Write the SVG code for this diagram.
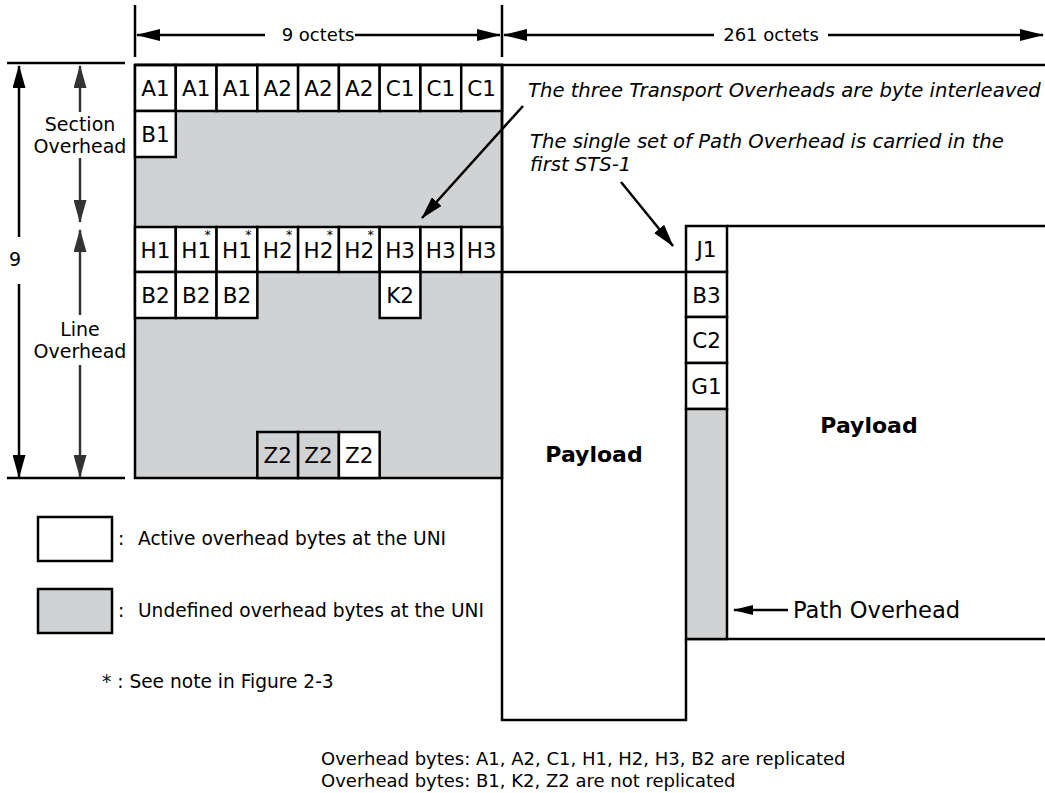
<svg xmlns="http://www.w3.org/2000/svg" width="1045" height="793" viewBox="0 0 1045 793">
<style>
text{font-family:"DejaVu Sans","Liberation Sans",sans-serif;fill:#000}
.cell{fill:#fff;stroke:#000;stroke-width:2.5}
.grey{fill:#d1d2d4;stroke:#000;stroke-width:2.5}
.lbl{font-size:21.5px;text-anchor:middle}
.ast{font-size:12.5px;text-anchor:middle}
.ln{stroke:#000;stroke-width:2.5;fill:none}
.dim{stroke:#000;stroke-width:2.5;fill:none}
.dim2{stroke:#333;stroke-width:2.5;fill:none}
.it{font-size:19.6px;font-style:italic}
.t18{font-size:18px}
.side{font-size:19px;text-anchor:middle}
.pay{font-size:22px;font-weight:bold;text-anchor:middle}
</style>
<defs>
<marker id="ah" viewBox="0 0 24 12" refX="23" refY="6" markerWidth="24" markerHeight="12" markerUnits="userSpaceOnUse" orient="auto"><path d="M0,0 L24,6 L0,12 z" fill="#000"/></marker>
<marker id="ah2" viewBox="0 0 23 13" refX="22" refY="6.5" markerWidth="23" markerHeight="13" markerUnits="userSpaceOnUse" orient="auto"><path d="M0,0 L23,6.5 L0,13 z" fill="#333"/></marker>
<marker id="ahb" viewBox="0 0 23 13" refX="22" refY="6.5" markerWidth="23" markerHeight="13" markerUnits="userSpaceOnUse" orient="auto"><path d="M0,0 L23,6.5 L0,13 z" fill="#000"/></marker>
<marker id="ahs" viewBox="0 0 20 10" refX="19" refY="5" markerWidth="20" markerHeight="10" markerUnits="userSpaceOnUse" orient="auto"><path d="M0,0 L20,5 L0,10 z" fill="#000"/></marker>
</defs>
<rect width="1045" height="793" fill="#fff"/>

<g id="toh-frame">
<rect class="grey" x="135" y="65" width="367" height="413"/>
</g>

<g id="row-a">
<rect class="cell" x="135" y="65" width="40.78" height="46"/><text class="lbl" x="155.4" y="96">A1</text>
<rect class="cell" x="175.78" y="65" width="40.78" height="46"/><text class="lbl" x="196.2" y="96">A1</text>
<rect class="cell" x="216.56" y="65" width="40.78" height="46"/><text class="lbl" x="237" y="96">A1</text>
<rect class="cell" x="257.33" y="65" width="40.78" height="46"/><text class="lbl" x="277.7" y="96">A2</text>
<rect class="cell" x="298.11" y="65" width="40.78" height="46"/><text class="lbl" x="318.5" y="96">A2</text>
<rect class="cell" x="338.89" y="65" width="40.78" height="46"/><text class="lbl" x="359.3" y="96">A2</text>
<rect class="cell" x="379.67" y="65" width="40.78" height="46"/><text class="lbl" x="400.1" y="96">C1</text>
<rect class="cell" x="420.44" y="65" width="40.78" height="46"/><text class="lbl" x="440.8" y="96">C1</text>
<rect class="cell" x="461.22" y="65" width="40.78" height="46"/><text class="lbl" x="481.6" y="96">C1</text>
</g>
<g id="b1"><rect class="cell" x="135" y="111" width="40.78" height="46"/><text class="lbl" x="155.4" y="142">B1</text></g>

<g id="row-h">
<rect class="cell" x="135" y="227" width="40.78" height="45"/><text class="lbl" x="155.4" y="257.5">H1</text>
<rect class="cell" x="175.78" y="227" width="40.78" height="45"/><text class="lbl" x="196.2" y="257.5">H1</text><text class="ast" x="207.5" y="239">*</text>
<rect class="cell" x="216.56" y="227" width="40.78" height="45"/><text class="lbl" x="237" y="257.5">H1</text><text class="ast" x="248.3" y="239">*</text>
<rect class="cell" x="257.33" y="227" width="40.78" height="45"/><text class="lbl" x="277.7" y="257.5">H2</text><text class="ast" x="289" y="239">*</text>
<rect class="cell" x="298.11" y="227" width="40.78" height="45"/><text class="lbl" x="318.5" y="257.5">H2</text><text class="ast" x="329.8" y="239">*</text>
<rect class="cell" x="338.89" y="227" width="40.78" height="45"/><text class="lbl" x="359.3" y="257.5">H2</text><text class="ast" x="370.6" y="239">*</text>
<rect class="cell" x="379.67" y="227" width="40.78" height="45"/><text class="lbl" x="400.1" y="257.5">H3</text>
<rect class="cell" x="420.44" y="227" width="40.78" height="45"/><text class="lbl" x="440.8" y="257.5">H3</text>
<rect class="cell" x="461.22" y="227" width="40.78" height="45"/><text class="lbl" x="481.6" y="257.5">H3</text>
</g>
<g id="row-b2">
<rect class="cell" x="135" y="272" width="40.78" height="46"/><text class="lbl" x="155.4" y="303">B2</text>
<rect class="cell" x="175.78" y="272" width="40.78" height="46"/><text class="lbl" x="196.2" y="303">B2</text>
<rect class="cell" x="216.56" y="272" width="40.78" height="46"/><text class="lbl" x="237" y="303">B2</text>
</g>
<g id="k2"><rect class="cell" x="379.67" y="272" width="40.78" height="46"/><text class="lbl" x="400.1" y="303">K2</text></g>
<g id="row-z2">
<rect class="grey" x="257.33" y="432" width="40.78" height="46"/><text class="lbl" x="277.7" y="463">Z2</text>
<rect class="grey" x="298.11" y="432" width="40.78" height="46"/><text class="lbl" x="318.5" y="463">Z2</text>
<rect class="cell" x="338.89" y="432" width="40.78" height="46"/><text class="lbl" x="359.3" y="463">Z2</text>
</g>

<g id="frame-lines">
<path class="ln" d="M135,65 H1045"/>
<path class="ln" d="M502,65 V720 H686 V639"/>
<path class="ln" d="M502,272 H686"/>
<path class="ln" d="M727,226 H1045"/>
<path class="ln" d="M686,639 H1045"/>
</g>

<g id="poh">
<rect class="cell" x="686" y="226" width="41" height="46"/><text class="lbl" x="706.5" y="257">J1</text>
<rect class="cell" x="686" y="272" width="41" height="45"/><text class="lbl" x="706.5" y="302.5">B3</text>
<rect class="cell" x="686" y="317" width="41" height="46"/><text class="lbl" x="706.5" y="348">C2</text>
<rect class="cell" x="686" y="363" width="41" height="46"/><text class="lbl" x="706.5" y="394">G1</text>
<rect class="grey" x="686" y="409" width="41" height="230"/>
</g>

<g id="payload-1"><text class="pay" x="594" y="462">Payload</text></g>
<g id="payload-2"><text class="pay" x="869" y="433">Payload</text></g>

<g id="connectors">
<path class="dim" d="M135,5 V57 M502,5 V57"/>
<path class="dim" d="M265,35 H137" marker-end="url(#ah)"/>
<path class="dim" d="M355,35 H500" marker-end="url(#ah)"/>
<path class="dim" d="M714,35 H504" marker-end="url(#ah)"/>
<path class="dim" d="M828,35 H1043" marker-end="url(#ah)"/>
<path class="dim" d="M7,63 H125 M7,478 H125"/>
<path class="dim" d="M19,237 V66" marker-end="url(#ahb)"/>
<path class="dim" d="M19,284 V477" marker-end="url(#ahb)"/>
<path class="dim2" d="M80,112 V66" marker-end="url(#ah2)"/>
<path class="dim2" d="M80,158 V222" marker-end="url(#ah2)"/>
<path class="dim2" d="M80,315 V230" marker-end="url(#ah2)"/>
<path class="dim2" d="M80,365 V477" marker-end="url(#ah2)"/>
<path class="dim" d="M523,106 L422,218" marker-end="url(#ahb)"/>
<path class="dim" d="M621,182 L673,246" marker-end="url(#ahb)"/>
<path class="dim" d="M788,610 H734" marker-end="url(#ahs)"/>
</g>

<g id="labels">
<text class="t18" x="318" y="41" text-anchor="middle">9 octets</text>
<text class="t18" x="771" y="41" text-anchor="middle">261 octets</text>
<text class="side" x="80" y="131">Section</text>
<text class="side" x="80" y="153">Overhead</text>
<text class="side" x="80" y="336">Line</text>
<text class="side" x="80" y="358">Overhead</text>
<text class="side" x="15" y="266">9</text>
<text class="it" x="528" y="97">The three Transport Overheads are byte interleaved</text>
<text class="it" x="530" y="148">The single set of Path Overhead is carried in the</text>
<text class="it" x="530" y="171">first STS-1</text>
<text x="793" y="618" font-size="22.6">Path Overhead</text>
</g>

<g id="legend-active">
<rect class="cell" x="38" y="517" width="74" height="44" stroke-width="2"/>
<text font-size="18.6"><tspan x="118" y="545">:</tspan><tspan x="138" y="545">Active overhead bytes at the UNI</tspan></text>
</g>
<g id="legend-undefined">
<rect class="grey" x="38" y="589" width="74" height="44" stroke-width="2"/>
<text font-size="18.6"><tspan x="118" y="617">:</tspan><tspan x="138" y="617">Undefined overhead bytes at the UNI</tspan></text>
</g>
<g id="note"><text font-size="18.6" x="102" y="688">* : See note in Figure 2-3</text></g>
<g id="footer">
<text class="t18" x="321" y="765">Overhead bytes: A1, A2, C1, H1, H2, H3, B2 are replicated</text>
<text class="t18" x="321" y="787">Overhead bytes: B1, K2, Z2 are not replicated</text>
</g>
</svg>
